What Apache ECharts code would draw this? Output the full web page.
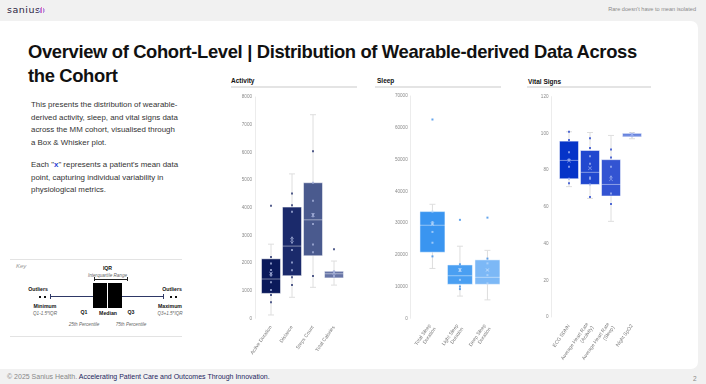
<!DOCTYPE html>
<html><head><meta charset="utf-8">
<script src="https://cdn.jsdelivr.net/npm/echarts@6/dist/echarts.min.js"></script>
<style>
body{margin:0;width:706px;height:384px;overflow:hidden;background:#f1f1f1;font-family:"Liberation Sans",Arial,sans-serif;position:relative}
.a{position:absolute;white-space:nowrap}
.c{position:absolute;white-space:nowrap;transform:translate(-50%,-50%)}
#card{position:absolute;left:0;top:21px;width:698px;height:348px;background:#fff;border-radius:0 7px 7px 0}
#chart{position:absolute;left:0;top:0;width:706px;height:384px}
.p{position:absolute;left:31px;font-size:7.9px;color:#333;line-height:12.7px;white-space:nowrap}
.st{position:absolute;font-size:6.5px;font-weight:bold;color:#111}
.ul{position:absolute;height:1.5px;background:#e4e4e4}
.kb{font-weight:bold;color:#111;font-size:5.2px}
.ki{font-style:italic;color:#666;font-size:4.6px}
</style></head><body>
<div id="card"></div>
<div class="a" style="left:7px;top:5px;font-size:9.5px;line-height:10px;color:#2b2342;letter-spacing:0.5px;font-family:'DejaVu Sans'">sanius</div>
<div class="a" id="logoicon" style="left:38px;top:7px;height:6px;width:8px"></div>
<div class="a" style="right:10px;top:6px;font-size:5.6px;color:#8a8a8a">Rare doesn't have to mean isolated</div>

<div class="a" style="left:28px;top:40px;font-size:18.4px;line-height:24px;color:#111;font-weight:bold;letter-spacing:-0.35px">Overview of Cohort-Level | Distribution of Wearable-derived Data Across<br>the Cohort</div>

<div class="p" style="top:99px">This presents the distribution of wearable-<br>derived activity, sleep, and vital signs data<br>across the MM cohort, visualised through<br>a Box &amp; Whisker plot.</div>
<div class="p" style="top:159px">Each "<b style="color:#2a3fd6">x</b>" represents a patient's mean data<br>point, capturing individual variability in<br>physiological metrics.</div>

<!-- key -->
<div class="a" style="left:10px;top:259px;width:172px;height:1px;background:#e3e3e3"></div>
<div class="a" style="left:10px;top:336px;width:172px;height:1px;background:#e3e3e3"></div>
<div class="a" style="left:16px;top:263px;font-size:6px;color:#9a9a9a;font-style:italic">Key</div>
<div id="key"></div>

<div class="st" style="left:231px;top:77px">Activity</div>
<div class="ul" style="left:231px;top:86px;width:126px"></div>
<div class="st" style="left:377px;top:77px">Sleep</div>
<div class="ul" style="left:375px;top:86px;width:126px"></div>
<div class="st" style="left:528px;top:78px">Vital Signs</div>
<div class="ul" style="left:527px;top:86px;width:124px"></div>

<div class="a" style="left:7px;top:373px;font-size:7px;color:#888">© 2025 Sanius Health. <span style="color:#1d1f5e">Accelerating Patient Care and Outcomes Through Innovation.</span></div>
<div class="a" style="left:693px;top:375px;font-size:6.5px;color:#888">2</div>

<div id="chart"></div>
<script>
// ---------- DATA ----------
const activityCategories = ['Active Duration', 'Distance', 'Steps Count', 'Total Calories'];
const activityBoxes = [ // [min, Q1, median, Q3, max]
  [120, 900, 1420, 2150, 2680],
  [760, 1540, 2610, 4020, 5220],
  [1120, 2260, 3560, 4900, 7360],
  [1200, 1460, 1610, 1700, 2070]
];
const activityPoints = [
  [4070, 2220, 1980, 1750, 1620, 1550, 1300, 1020, 840, 580],
  [4510, 4090, 3850, 2910, 2740, 2470, 2020, 1740, 1480, 1200],
  [6040, 4900, 4250, 3770, 3690, 3410, 2670, 2390, 1530],
  [2500, 1700, 1650, 1550, 1500]
];
const activityMeans = [1620, 2830, 3730, 1650];
const activityAxis = {min: 0, max: 8000, interval: 1000};

const sleepCategories = ['Total Sleep\nDuration', 'Light Sleep\nDuration', 'Deep Sleep\nDuration'];
const sleepBoxes = [
  [15700, 20800, 29300, 33600, 35900],
  [7000, 10700, 13400, 16800, 22700],
  [5800, 10700, 12900, 18400, 21400]
];
const sleepPoints = [
  [62600, 33600, 30300, 29700, 27200, 23800, 19500],
  [31000, 17000, 15500, 14900, 12100, 10000, 9200],
  [31700, 18800, 17300, 15200, 13600, 11000]
];
const sleepMeans = [29700, 15200, 15200];
const sleepAxis = {min: 0, max: 70000, interval: 10000};

const vitalCategories = ['ECG SDNN', 'Average Heart Rate\n(Activity)', 'Average Heart Rate\n(Sleep)', 'Night SpO2'];
const vitalBoxes = [
  [71.0, 75.3, 85.3, 95.8, 100.9],
  [64.6, 72.2, 78.8, 90.7, 100.5],
  [52.1, 65.9, 72.2, 85.7, 98.9],
  [97.1, 98.2, 99.1, 100.0, 100.5]
];
const vitalPoints = [
  [100.9, 96.4, 89.8, 85.8, 81.9, 75.3, 72.8],
  [97.3, 92.0, 87.5, 83.5, 76.0, 75.3, 72.2, 65.3],
  [91.3, 86.9, 81.9, 76.4, 67.3, 61.5],
  [99.6, 98.5]
];
const vitalMeans = [85.1, 81.0, 75.1, 99.5];
const vitalAxis = {min: 0, max: 120, interval: 20};

// ---------- STYLE ----------
const activityColors = ['#0b1a5b', '#1b2a6b', '#4a5a8e', '#6674a6'];
const sleepColors = ['#3a95f0', '#4a9ff2', '#7cb8f6'];
const vitalColors = ['#0634c8', '#2148cf', '#3354d2', '#4466d6'];

// key diagram (decoration)
(function(){
  const k = document.getElementById('key');
  const add = (h) => k.insertAdjacentHTML('beforeend', h);
  const box = (l,t,w,h,bg) => add(`<div class="a" style="left:${l}px;top:${t}px;width:${w}px;height:${h}px;background:${bg}"></div>`);
  const txt = (x,y,cls,s) => add(`<div class="c ${cls}" style="left:${x}px;top:${y}px">${s}</div>`);
  box(93,283,14,25,'#000'); box(108,283,14,25,'#000');
  box(50,296,43,1,'#2e3866'); box(122,296,42,1,'#2e3866');
  box(50,294,1,5,'#2e3866'); box(163,294,1,5,'#2e3866');
  box(94,278.5,34,1,'#222'); box(94,277,1,4,'#222'); box(127,277,1,4,'#222');
  [39,43.5,170,174.5].forEach(x=>box(x,295.5,2,2,'#111'));
  txt(107.5,268,'kb','IQR'); txt(107.5,274.5,'ki','Interquartile Range');
  txt(38,289,'kb','Outliers'); txt(172,289,'kb','Outliers');
  txt(45,305.5,'kb','Minimum'); txt(45,313,'ki','Q1-1.5*IQR');
  txt(170,305.5,'kb','Maximum'); txt(170,313,'ki','Q3+1.5*IQR');
  txt(84,312,'kb','Q1'); txt(84,324,'ki','25th Percentile');
  txt(108,313,'kb','Median');
  txt(131,312,'kb','Q3'); txt(131,324,'ki','75th Percentile');
  const li = document.getElementById('logoicon');
  const cols = ['#c9b6e8','#b48fe0','#e070c0','#b48fe0','#c9b6e8'];
  const hs = [3,5,6,5,3];
  hs.forEach((h,i)=>li.insertAdjacentHTML('beforeend',`<div class="a" style="left:${i*1.6}px;top:${(6-h)/2}px;width:0.8px;height:${h}px;background:${cols[i]}"></div>`));
})();

// ---------- CHART ----------
const chart = echarts.init(document.getElementById('chart'), null, {renderer: 'canvas'});

const grids = [
  {left: 260.5, top: 97, width: 84, height: 221.3, offset: 5.5, boxW: 19, cats: activityCategories, boxes: activityBoxes, pts: activityPoints, means: activityMeans, ax: activityAxis, colors: activityColors, inC: '#a3aed8', outC: '#2c3872'},
  {left: 418.7, top: 96, width: 82.5, height: 222.3, offset: 8, boxW: 25, cats: sleepCategories, boxes: sleepBoxes, pts: sleepPoints, means: sleepMeans, ax: sleepAxis, colors: sleepColors, inC: '#b4d6fb', outC: '#3d8fe8'},
  {left: 558.5, top: 96.7, width: 84, height: 220.3, offset: 7, boxW: 19, cats: vitalCategories, boxes: vitalBoxes, pts: vitalPoints, means: vitalMeans, ax: vitalAxis, colors: vitalColors, inC: '#9fb1f0', outC: '#2a4ad0'}
];

const option = {
  animation: false,
  grid: grids.map(g => ({left: g.left, top: g.top, width: g.width, height: g.height, containLabel: false, outerBoundsMode: 'none'})),
  xAxis: grids.map((g, i) => ({
    type: 'category', gridIndex: i, data: g.cats, boundaryGap: true,
    axisLine: {show: false}, axisTick: {show: false}, splitLine: {show: false},
    axisLabel: {rotate: 55, fontSize: 5, color: '#777', margin: 8, lineHeight: 6, interval: 0, fontFamily: 'Liberation Sans'}
  })),
  yAxis: grids.map((g, i) => ({
    type: 'value', gridIndex: i, min: g.ax.min, max: g.ax.max, interval: g.ax.interval, offset: g.offset,
    axisLine: {show: true, lineStyle: {color: '#ececec', width: 1}}, axisTick: {show: false}, splitLine: {show: false},
    axisLabel: {fontSize: 4.6, color: '#8a8a8a', margin: 3, fontFamily: 'Liberation Sans', formatter: v => String(v)}
  })),
  series: []
};

const xPath = 'path://M0 1.2L1.2 0L5 3.8L8.8 0L10 1.2L6.2 5L10 8.8L8.8 10L5 6.2L1.2 10L0 8.8L3.8 5Z';

grids.forEach((g, gi) => {
  option.series.push({
    type: 'custom', xAxisIndex: gi, yAxisIndex: gi, z: 2,
    data: g.boxes.map((b, i) => [i].concat(b)),
    encode: {x: 0, y: [1, 2, 3, 4, 5]},
    renderItem: function (params, api) {
      const i = api.value(0);
      const x = api.coord([i, 0])[0];
      const yv = [1, 2, 3, 4, 5].map(k => api.coord([i, api.value(k)])[1]);
      const w = g.boxW, cap = 3;
      const wl = {stroke: '#dedede', lineWidth: 1};
      return {type: 'group', children: [
        {type: 'line', shape: {x1: x, y1: yv[4], x2: x, y2: yv[0]}, style: wl},
        {type: 'line', shape: {x1: x - cap, y1: yv[4], x2: x + cap, y2: yv[4]}, style: wl},
        {type: 'line', shape: {x1: x - cap, y1: yv[0], x2: x + cap, y2: yv[0]}, style: wl},
        {type: 'rect', shape: {x: x - w / 2, y: yv[3], width: w, height: yv[1] - yv[3]},
          style: {fill: g.colors[i], stroke: 'rgba(255,255,255,0.5)', lineWidth: 1}},
        {type: 'line', shape: {x1: x - w / 2, y1: yv[2], x2: x + w / 2, y2: yv[2]}, style: {stroke: 'rgba(255,255,255,0.45)', lineWidth: 1}}
      ]};
    }
  });
  const sd = [];
  g.pts.forEach((arr, i) => arr.forEach(v => {
    const inside = v >= g.boxes[i][1] && v <= g.boxes[i][3];
    sd.push({value: [i, v], itemStyle: {color: inside ? g.inC : g.outC}});
  }));
  option.series.push({type: 'scatter', xAxisIndex: gi, yAxisIndex: gi, z: 3, symbol: 'rect', symbolSize: 2, data: sd});
  option.series.push({type: 'scatter', xAxisIndex: gi, yAxisIndex: gi, z: 4, symbol: xPath, symbolSize: 4,
    itemStyle: {color: g.inC}, data: g.means.map((v, i) => [i, v])});
});

chart.setOption(option);
</script>
</body></html>
